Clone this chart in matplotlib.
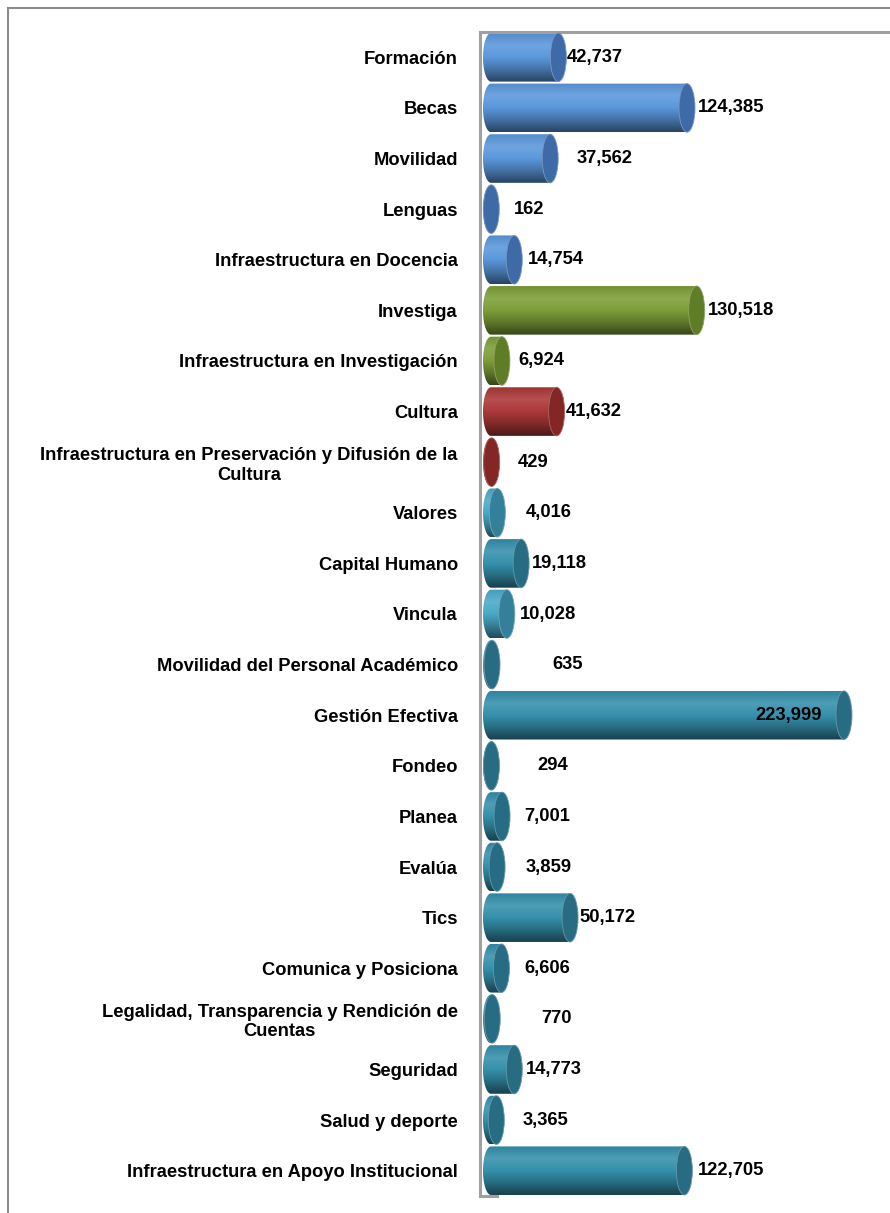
import matplotlib
matplotlib.use("Agg")
import matplotlib.pyplot as plt
import numpy as np
from matplotlib.colors import LinearSegmentedColormap, to_rgb
from matplotlib.patches import Ellipse, Polygon
from matplotlib.lines import Line2D

plt.rcParams['font.family'] = ['Liberation Sans', 'DejaVu Sans']

categories = [
    "Formación", "Becas", "Movilidad", "Lenguas", "Infraestructura en Docencia",
    "Investiga", "Infraestructura en Investigación", "Cultura",
    "Infraestructura en Preservación y Difusión de la\nCultura",
    "Valores", "Capital Humano", "Vincula", "Movilidad del Personal Académico",
    "Gestión Efectiva", "Fondeo", "Planea", "Evalúa", "Tics",
    "Comunica y Posiciona", "Legalidad, Transparencia y Rendición de\nCuentas",
    "Seguridad", "Salud y deporte", "Infraestructura en Apoyo Institucional",
]
values = [42737, 124385, 37562, 162, 14754, 130518, 6924, 41632, 429, 4016,
          19118, 10028, 635, 223999, 294, 7001, 3859, 50172, 6606, 770,
          14773, 3365, 122705]
value_labels = ["42,737", "124,385", "37,562", "162", "14,754", "130,518", "6,924",
                "41,632", "429", "4,016", "19,118", "10,028", "635", "223,999",
                "294", "7,001", "3,859", "50,172", "6,606", "770", "14,773",
                "3,365", "122,705"]
groups = ["blue"] * 5 + ["green"] * 2 + ["red"] * 2 + ["teal_l", "teal", "teal_l"] + ["teal"] * 11

# body colour, cap colour
palette = {
    "blue": ("#5b97dc", "#3f6aa8"),
    "green": ("#7d9e38", "#5f7c27"),
    "red": ("#ac3838", "#842626"),
    "teal": ("#3590ac", "#276c82"),
    "teal_l": ("#4aa9c9", "#347f99"),
}
# extra horizontal shift of value labels (pixels), to mimic the original placement
label_nudge = [-3, 0, 15, 12, 3, 0, 5, -2, 15, 17, 0, 2, 49, 0, 35, 11, 18, -2,
               12, 38, 1, 15, 3]

W, H = 890, 1213
fs = 13.2
fig = plt.figure(figsize=(W / 100, H / 100), dpi=100)

# outer frame (right/bottom edges fall outside the picture)
fig.add_artist(Line2D([8 / W, 8 / W], [0, 1 - 8 / H], color="#8c8c8c", lw=1.5))
fig.add_artist(Line2D([8 / W, 1], [1 - 8 / H, 1 - 8 / H], color="#8c8c8c", lw=1.5))

left_px, top_px, bot_px = 480, 32, 1196
ax = fig.add_axes([left_px / W, 1 - bot_px / H, 1 - left_px / W, (bot_px - top_px) / H])

px = 634.6            # data units per pixel
zero_px = 11          # zero sits 11 px right of the wall
hw = 8 * px           # half width of the cylinder end caps
bh = 0.96             # bar height
n = len(values)
ax.set_xlim(-zero_px * px, (W - left_px - zero_px) * px)
ax.set_ylim(n - 0.5, -0.5)


def shade(c, f):
    c = np.array(to_rgb(c))
    return tuple(np.clip(c * f, 0, 1)) if f < 1 else tuple(c + (1 - c) * (f - 1))


t = np.linspace(np.pi / 2, 3 * np.pi / 2, 40)
for i, (v, g) in enumerate(zip(values, groups)):
    body, cap = palette[g]
    cmap = LinearSegmentedColormap.from_list(
        "b", [shade(body, 0.92), shade(body, 1.12), shade(body, 1.0),
              shade(body, 0.75), shade(body, 0.45)])
    top, bot = i - bh / 2, i + bh / 2
    # right side of the body, then the left half ellipse from bottom back to top
    pts = [(v, top), (v, bot)] + list(zip(hw * np.cos(t), i + bh / 2 * np.sin(t)))
    poly = Polygon(pts, closed=True, facecolor="none", edgecolor="none")
    ax.add_patch(poly)
    grad = np.linspace(0, 1, 64).reshape(-1, 1)
    im = ax.imshow(grad, cmap=cmap, aspect="auto", extent=[-hw, v, bot, top],
                   interpolation="bicubic", zorder=2)
    im.set_clip_path(poly)
    ax.add_patch(Ellipse((v, i), 2 * hw, bh, facecolor=cap, edgecolor=shade(cap, 1.3),
                         lw=0.6, zorder=3))

    if v == max(values):
        ax.annotate(value_labels[i], (v - hw, i), xytext=(-14, 0), textcoords="offset pixels",
                    ha="right", va="center", fontsize=fs, fontweight="bold", zorder=5)
    else:
        ax.annotate(value_labels[i], (v + hw, i), xytext=(3 + label_nudge[i], 0),
                    textcoords="offset pixels", ha="left", va="center",
                    fontsize=fs, fontweight="bold", zorder=5)

ax.set_yticks(range(n))
ax.set_yticklabels(categories, fontsize=fs, fontweight="bold")
for lab in ax.get_yticklabels():
    lab.set_multialignment("center")
ax.tick_params(axis="y", length=0, pad=16)
ax.set_xticks([])

for s in ["right", "bottom"]:
    ax.spines[s].set_visible(False)
for s in ["left", "top"]:
    ax.spines[s].set_color("#a0a0a0")
    ax.spines[s].set_linewidth(2.2)
ax.plot([-zero_px * px, 6 * px], [n - 0.5, n - 0.5], color="#a0a0a0", lw=2.2,
        clip_on=False, zorder=4)
ax.set_facecolor("white")

fig.savefig("out.png", dpi=100)
